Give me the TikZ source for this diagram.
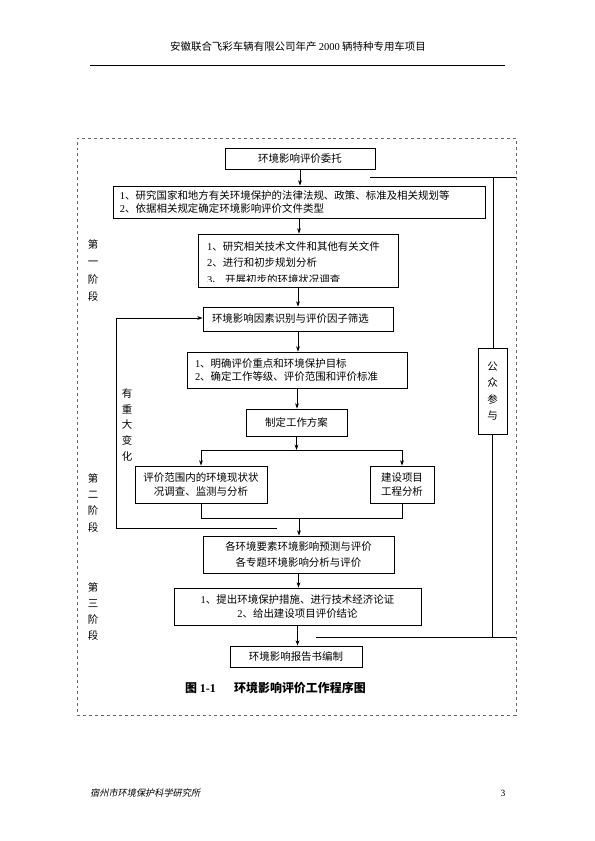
\documentclass[tikz,border=0pt]{standalone}
\usepackage{fontspec}
\setmainfont{Noto Sans CJK SC}
\newfontfamily\lat{Liberation Serif}
\newfontfamily\cjkit[FakeSlant=0.2]{Noto Sans CJK SC}
\usetikzlibrary{arrows.meta}
\begin{document}
\begin{tikzpicture}[x=1bp,y=-1bp,
  box/.style={draw, line width=0.7pt, inner ysep=0pt, inner xsep=0pt, font=\fontsize{10.5}{13}\selectfont},
  arr/.style={-{Stealth[length=5.5pt,width=3.8pt]}, line width=0.7pt},
  ln/.style={line width=0.7pt},
  stage/.style={align=center, inner sep=0pt},
]
\useasboundingbox (0,0) rectangle (595,841);
% header
\node[font=\fontsize{10.5}{12}\selectfont, inner sep=0pt] (hdr) at (298,47) {安徽联合飞彩车辆有限公司年产 {\lat 2000} 辆特种专用车项目};
\coordinate (hl) at (90,65);
\coordinate (hr) at (505,65);
\draw[line width=0.6pt] (hl) -- (hr);
% frame
\node[draw, dashed, gray!80!black, line width=0.6pt, minimum width=439bp, minimum height=577bp, inner sep=0pt] (frame) at (296.5,426.5) {};
% boxes
\node[box, minimum width=150bp, minimum height=21bp] (b1) at (300,158.5) {环境影响评价委托};
\node[box, minimum height=32bp, text width=358bp, inner xsep=7bp, align=left] (b2) at (299,202)
  {{\lat 1}、研究国家和地方有关环境保护的法律法规、政策、标准及相关规划等\\{\lat 2}、依据相关规定确定环境影响评价文件类型};
\node[box, minimum width=200bp, minimum height=53bp] (b3) at (298,260.5) {};
\begin{scope}
  \clip (198,234) rectangle (398,281.5);
  \node[anchor=north west, align=left, inner sep=0pt, font=\fontsize{10.5}{15.5}\selectfont] (b3t) at (207,241.5)
    {{\lat 1}、研究相关技术文件和其他有关文件\\{\lat 2}、进行和初步规划分析\\[2.5bp]{\lat 3}、 开展初步的环境状况调查};
\end{scope}
\node[box, minimum height=24bp, text width=172bp, inner xsep=9bp, align=left] (b4) at (298,319) {环境影响因素识别与评价因子筛选};
\node[box, minimum height=36bp, text width=204bp, inner xsep=8bp, align=left] (b5) at (297,370)
  {{\lat 1}、明确评价重点和环境保护目标\\{\lat 2}、确定工作等级、评价范围和评价标准};
\node[box, minimum width=101bp, minimum height=27bp] (b6) at (296.5,422.5) {制定工作方案};
\node[box, minimum width=132bp, minimum height=37bp, align=center, font=\fontsize{10.5}{14}\selectfont] (b7) at (201,484.5)
  {评价范围内的环境现状状\\况调查、监测与分析};
\node[box, minimum width=64bp, minimum height=37bp, align=center, font=\fontsize{10.5}{14}\selectfont] (b8) at (402,484.5)
  {建设项目\\工程分析};
\node[box, minimum width=191bp, minimum height=37bp, align=center, font=\fontsize{10.5}{15.5}\selectfont] (b9) at (298.5,554.5)
  {各环境要素环境影响预测与评价\\各专题环境影响分析与评价};
\node[box, minimum width=247bp, minimum height=37bp, align=center, font=\fontsize{10.5}{15}\selectfont] (b10) at (297.5,606.5)
  {{\lat 1}、提出环境保护措施、进行技术经济论证\\{\lat 2}、给出建设项目评价结论};
\node[box, minimum width=132bp, minimum height=21bp] (b11) at (296,656.5) {环境影响报告书编制};
\node[box, minimum width=29bp, minimum height=86bp, align=center, font=\fontsize{10.5}{16.3}\selectfont] (pp) at (492.5,391)
  {公\\众\\参\\与};
% stage labels
\node[stage, font=\fontsize{10.5}{17.6}\selectfont] (st1) at (93,270.5) {第\\一\\阶\\段};
\node[stage, font=\fontsize{10.5}{16.3}\selectfont] (st2) at (93,502.75) {第\\二\\阶\\段};
\node[stage, font=\fontsize{10.5}{16.3}\selectfont] (st3) at (93,611.5) {第\\三\\阶\\段};
\node[stage, font=\fontsize{10.5}{16}\selectfont] (chg) at (127,425) {有\\重\\大\\变\\化};
% caption
\node[anchor=west, inner sep=0pt, font=\fontsize{12}{14}\bfseries] (cap1) at (185,688) {图 {\lat\bfseries 1-1}};
\node[anchor=west, inner sep=0pt, font=\fontsize{12}{14}\bfseries] (cap2) at (234,688) {环境影响评价工作程序图};
% footer
\node[anchor=west, inner sep=0pt, font=\fontsize{9.2}{11}\selectfont] (ft) at (90,793) {\cjkit 宿州市环境保护科学研究所};
\node[inner sep=0pt, font=\fontsize{9.5}{11}\lat] (pg) at (503,793) {3};
% connectors
\draw[arr] (b1.south) -- (b1.south |- b2.north);
\draw[arr] (b2.south) -- (b2.south |- b3.north);
\draw[arr] (b3.south) -- (b3.south |- b4.north);
\draw[arr] (b4.south) -- (b4.south |- b5.north);
\draw[arr] (b5.south) -- (b5.south |- b6.north);
\coordinate (sp) at (297,450);
\draw[arr] (b6.south) -- (b6.south |- sp);
\draw[ln] (b7.north |- sp) -- (b8.north |- sp);
\draw[arr] (b7.north |- sp) -- (b7.north);
\draw[arr] (b8.north |- sp) -- (b8.north);
\coordinate (jn) at (299,518);
\draw[ln] (b7.south) -- (b7.south |- jn) -- (b8.south |- jn) -- (b8.south);
\draw[arr] (jn) -- (jn |- b9.north);
\draw[arr] (b9.south) -- (b9.south |- b10.north);
\draw[arr] (b10.south) -- (b10.south |- b11.north);
% feedback loop
\coordinate (fb) at (277,528);
\coordinate (fbc) at (116,318);
\draw[arr] (fb) -| (fbc) -- (b4.west |- fbc);
% public participation
\coordinate (r0) at (370,177);
\coordinate (r1) at (516,177);
\coordinate (rv) at (493,177);
\draw[ln] (r0) -- (r1);
\draw[ln] (rv) -- (rv |- pp.north);
\coordinate (s0) at (316,637);
\coordinate (s1) at (516,637);
\draw[ln] (pp.south) -- (pp.south |- s0);
\draw[ln] (s0) -- (s1);
\end{tikzpicture}
\end{document}
